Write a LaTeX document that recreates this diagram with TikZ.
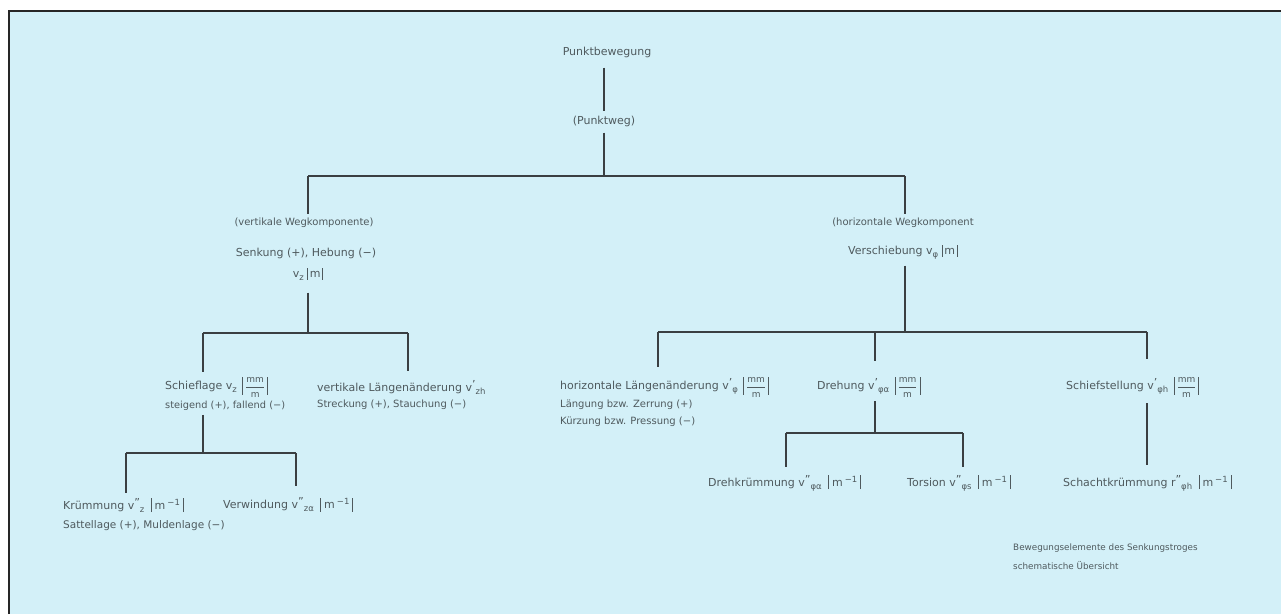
\documentclass[tikz,border=0pt]{standalone}
\usepackage{fontspec}
\usepackage{amsmath}
\setmainfont{DejaVu Sans}
\definecolor{bg}{HTML}{D3F0F8}
\definecolor{txt}{HTML}{4F5A5E}
\definecolor{ln}{HTML}{3A3F42}
\newcommand\vb[2]{\textcolor{txt}{\rule[-#2]{0.8pt}{#1}}}
\newcommand\mmpm{\kern2pt\vb{18pt}{5pt}\kern2pt$\dfrac{\text{\fontsize{9}{9}\selectfont mm}}{\text{\fontsize{9}{9}\selectfont m}}$\kern2pt\vb{18pt}{5pt}}
\newcommand\minv{\kern3pt\vb{14pt}{3pt}\kern3pt m\kern2pt\raisebox{4pt}{\fontsize{8.5}{8}\selectfont −1}\kern3pt\vb{14pt}{3pt}}
\newcommand\munit{\vb{12pt}{2pt}\,m\,\vb{12pt}{2pt}}
\newcommand\vv[3]{#1\raisebox{3pt}{#2}\raisebox{-3pt}{\fontsize{8.5}{8}\selectfont #3}}
\tikzset{
  lbl/.style={font=\fontsize{11}{13}\selectfont, text=txt, inner sep=0pt},
  sml/.style={font=\fontsize{10}{11}\selectfont, text=txt, inner sep=0pt},
  conn/.style={draw=ln, line width=1.2pt},
  frame/.style={draw=black!85, line width=2pt}
}
\begin{document}
\begin{tikzpicture}[x=1pt,y=-1pt]
\useasboundingbox (0,0) rectangle (1281,614);
\fill[white] (0,0) rectangle (1281,614);
\fill[bg] (9,11) rectangle (1281,614);
\draw[frame] (9,614) -- (9,11) -- (1281,11);

% top
\node[lbl] (pb) at (607,52) {Punktbewegung};
\node[lbl] (pw) at (604,121) {(Punktweg)};
\coordinate (b0) at (604,176);
\coordinate (b0l) at (308,176);
\coordinate (b0r) at (905,176);
\draw[conn] ([yshift=-10pt]pw.north |- pb.south) -- ([yshift=4pt]pw.north);
\draw[conn] ([yshift=-6pt]pw.south) -- (b0);
\draw[conn] (b0l) -- (b0r);

% vertical branch
\node[font=\fontsize{10}{12}\selectfont, text=txt, inner sep=0pt] (vk1) at (304,223) {(vertikale Wegkomponente)};
\node[lbl] (vk2) at (306,253) {Senkung (+), Hebung (−)};
\node[lbl] (vk3) at (308,274) {\vv{v}{}{z} \munit};
\draw[conn] (b0l) -- ([yshift=4pt]b0l |- vk1.north);
\coordinate (b1) at (308,333);
\coordinate (b1l) at (203,333);
\coordinate (b1r) at (408,333);
\draw[conn] ([yshift=-12pt]b1 |- vk3.south) -- (b1);
\draw[conn] (b1l) -- (b1r);

\node[lbl, anchor=west] (sl) at (165,387) {Schieflage \vv{v}{}{z} \mmpm};
\node[sml, font=\fontsize{9.8}{11}\selectfont, anchor=west] (sl2) at (165,406) {steigend (+), fallend (−)};
\node[lbl, anchor=west] (vl) at (317,387) {vertikale Längenänderung \vv{v}{'}{zh}};
\node[sml, anchor=west] (vl2) at (317,405) {Streckung (+), Stauchung (−)};
\draw[conn] (b1l) -- ([yshift=5pt]b1l |- sl.north);
\draw[conn] (b1r) -- ([yshift=9pt]b1r |- vl.north);

\coordinate (b2) at (203,453);
\coordinate (b2l) at (126,453);
\coordinate (b2r) at (296,453);
\draw[conn] ([yshift=-4pt]b2 |- sl2.south) -- (b2);
\draw[conn] (b2l) -- (b2r);
\node[lbl, anchor=west] (kr) at (63,505) {Krümmung \vv{v}{''}{z} \minv};
\node[sml, font=\fontsize{10.5}{11}\selectfont, anchor=west] (kr2) at (63,526) {Sattellage (+), Muldenlage (−)};
\node[lbl, anchor=west] (vw) at (223,505) {Verwindung \vv{v}{''}{zα} \minv};
\draw[conn] (b2l) -- ([yshift=5pt]b2l |- kr.north);
\draw[conn] (b2r) -- ([yshift=12pt]b2r |- vw.north);

% horizontal branch
\node[font=\fontsize{10}{12}\selectfont, text=txt, inner sep=0pt] (hk1) at (903,223) {(horizontale Wegkomponent};
\node[lbl] (hk2) at (903,252) {Verschiebung \vv{v}{}{φ} \munit};
\draw[conn] (b0r) -- ([yshift=4pt]b0r |- hk1.north);
\coordinate (b3) at (905,332);
\coordinate (b3l) at (658,332);
\coordinate (b3m) at (875,332);
\coordinate (b3r) at (1147,332);
\draw[conn] ([yshift=-6pt]b3 |- hk2.south) -- (b3);
\draw[conn] (b3l) -- (b3r);

\node[lbl, anchor=west] (hl) at (560,387) {horizontale Längenänderung \vv{v}{'}{φ} \mmpm};
\node[sml, anchor=west] (hl2) at (560,405) {Längung bzw. Zerrung (+)};
\node[sml, anchor=west] (hl3) at (560,422) {Kürzung bzw. Pressung (−)};
\node[lbl, anchor=west] (dr) at (817,387) {Drehung \vv{v}{'}{φα} \mmpm};
\node[lbl, anchor=west] (ss) at (1066,387) {Schiefstellung \vv{v}{'}{φh} \mmpm};
\draw[conn] (b3l) -- ([yshift=10pt]b3l |- hl.north);
\draw[conn] (b3m) -- ([yshift=16pt]b3m |- dr.north);
\draw[conn] (b3r) -- ([yshift=18pt]b3r |- ss.north);

\coordinate (b4) at (875,433);
\coordinate (b4l) at (786,433);
\coordinate (b4r) at (963,433);
\draw[conn] ([yshift=-4pt]b4 |- dr.south) -- (b4);
\draw[conn] (b4l) -- (b4r);
\node[lbl, anchor=west] (dk) at (708,483) {Drehkrümmung \vv{v}{''}{φα} \minv};
\node[lbl, anchor=west] (to) at (907,483) {Torsion \vv{v}{''}{φs} \minv};
\draw[conn] (b4l) -- ([yshift=8pt]b4l |- dk.north);
\draw[conn] (b4r) -- ([yshift=8pt]b4r |- to.north);

\node[lbl, anchor=west] (sk) at (1063,483) {Schachtkrümmung \vv{r}{''}{φh} \minv};
\draw[conn] ([yshift=-6pt]b3r |- ss.south) -- ([yshift=10pt]b3r |- sk.north);

% caption
\node[sml, font=\fontsize{8.8}{10}\selectfont, anchor=west] (cap1) at (1013,548) {Bewegungselemente des Senkungstroges};
\node[sml, font=\fontsize{8.8}{10}\selectfont, anchor=west] (cap2) at (1013,566) {schematische Übersicht};
\end{tikzpicture}
\end{document}
